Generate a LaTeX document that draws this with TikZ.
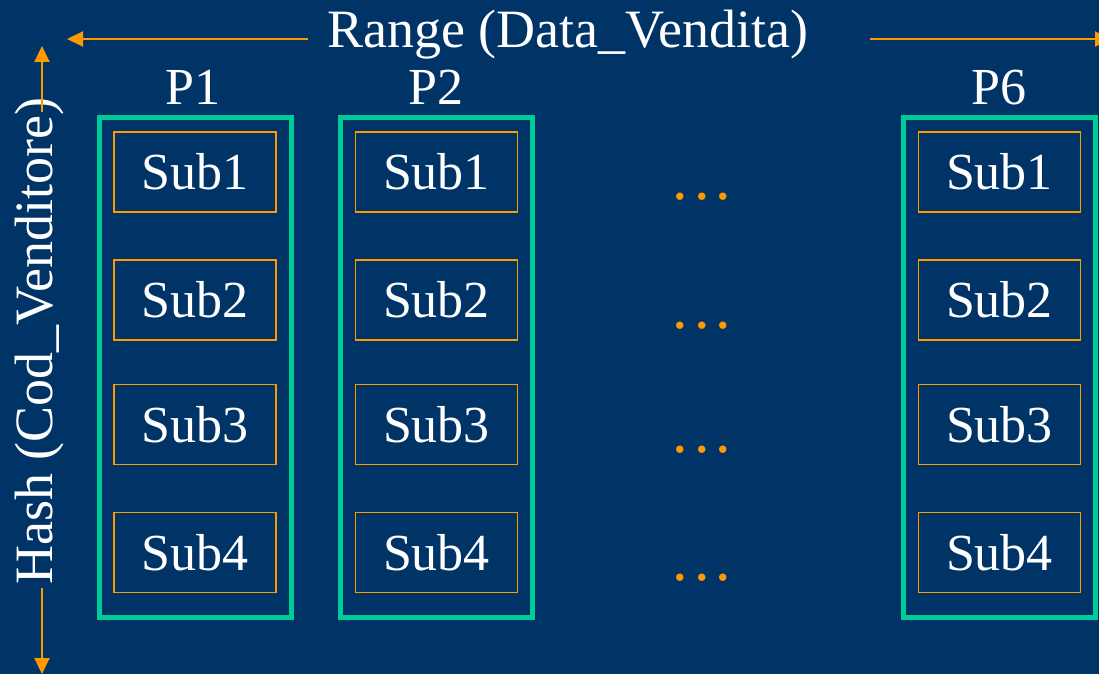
\documentclass[tikz,border=0pt]{standalone}
\usepackage{fontspec}
\setmainfont{Liberation Serif}
\usetikzlibrary{arrows.meta}
\definecolor{bg}{RGB}{0,51,102}
\definecolor{grn}{RGB}{0,204,153}
\definecolor{org}{RGB}{255,153,0}
\begin{document}
\begin{tikzpicture}[x=1pt,y=-1pt,
  big/.style={font=\fontsize{52}{62}\selectfont},
  axis/.style={font=\fontsize{54}{64}\selectfont,text=white,inner sep=0pt},
  lbl/.style={big,text=white,inner sep=0pt},
  part/.style={draw=grn,line width=5pt,minimum width=192pt,minimum height=500pt,inner sep=0pt},
  subbox/.style={big,draw=org,line width=1.5pt,minimum width=162pt,minimum height=80pt,text=white,inner sep=0pt},
  arr/.style={draw=org,line width=2pt,-{Triangle[width=15pt,length=16pt]}},
  dotsrow/.style={font=\fontsize{62}{70}\selectfont,text=org,inner sep=0pt,anchor=base}]
\fill[bg] (0,0) rectangle (1099,674);
\useasboundingbox (0,0) rectangle (1099,674);
% axis labels and arrows
\node[axis,anchor=base] (range) at (568,48) {Range (Data\_Vendita)};
\coordinate (rl0) at (308,39);
\coordinate (rl1) at (67,39);
\coordinate (rr0) at (870,39);
\coordinate (rr1) at (1111,39);
\draw[arr] (rl0) -- (rl1);
\draw[arr] (rr0) -- (rr1);
\node[axis,rotate=90] (hash) at (39.5,341) {Hash (Cod\_Venditore)};
\coordinate (vt0) at (42,112);
\coordinate (vt1) at (42,46);
\coordinate (vb0) at (42,588);
\coordinate (vb1) at (42,674);
\draw[arr] (vt0) -- (vt1);
\draw[arr] (vb0) -- (vb1);
% partitions
\node[part] (p1) at (195.5,367.5) {};
\node[part] (p2) at (436.5,367.5) {};
\node[part] (p6) at (999,367.5) {};
\node[lbl,anchor=base] (l1) at (193,105) {P1};
\node[lbl,anchor=base] (l2) at (436,105) {P2};
\node[lbl,anchor=base] (l6) at (999,105) {P6};
% subpartitions
\foreach \c/\x in {1/195,2/436.5,6/999.5}{
  \node[subbox] (s\c a) at (\x,172) {Sub1};
  \node[subbox] (s\c b) at (\x,300) {Sub2};
  \node[subbox] (s\c c) at (\x,424.5) {Sub3};
  \node[subbox] (s\c d) at (\x,552.5) {Sub4};
}
% ellipses
\node[dotsrow] (d1) at (702,199.5) {.\kern6pt.\kern6pt.};
\node[dotsrow] (d2) at (702,328.5) {.\kern6pt.\kern6pt.};
\node[dotsrow] (d3) at (702,452.5) {.\kern6pt.\kern6pt.};
\node[dotsrow] (d4) at (702,580.5) {.\kern6pt.\kern6pt.};
\end{tikzpicture}
\end{document}
